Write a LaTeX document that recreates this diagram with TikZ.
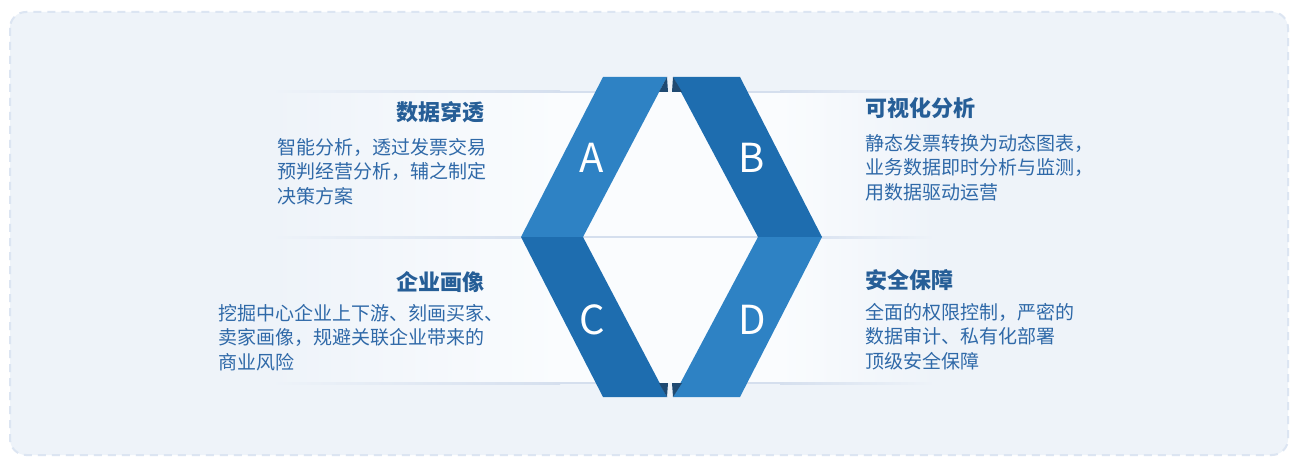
\documentclass[tikz,border=0pt]{standalone}
\usepackage{fontspec}
\newfontfamily\cjk{Noto Sans CJK SC}
\definecolor{bg}{HTML}{EEF3F9}
\definecolor{bgline}{HTML}{DCE5F2}
\definecolor{band}{HTML}{FAFCFE}
\definecolor{lightblue}{HTML}{2E82C4}
\definecolor{darkblue}{HTML}{1E6DAF}
\definecolor{fold}{HTML}{1F4A72}
\definecolor{titlec}{HTML}{265E97}
\definecolor{bodyc}{HTML}{2F69A8}
\definecolor{sep}{HTML}{D5DFEE}
\begin{document}
\begin{tikzpicture}[x=1pt,y=-1pt,
  titletext/.style={font=\cjk\bfseries\fontsize{22}{26}\selectfont, text=titlec, inner sep=0pt},
  bodytext/.style={font=\cjk\fontsize{19}{24.5}\selectfont, text=bodyc, inner sep=0pt, align=left},
  lettertext/.style={font=\cjk\fontsize{40}{42}\selectfont, text=white, inner sep=0pt}]
\useasboundingbox (0,0) rectangle (1290,457);
\fill[white] (0,0) rectangle (1290,457);
\draw[bgline, fill=bg, line width=2pt, dash pattern=on 8pt off 6pt, rounded corners=16pt] (10,12) rectangle (1288,455);
% bands
\shade[left color=bg, right color=band] (270,92) rectangle (560,383);
\fill[band] (559,92) rectangle (781,383);
\shade[left color=band, right color=bg] (780,92) rectangle (935,383);
% separator lines
\foreach \yy in {92,237,383}{
  \shade[left color=bg, right color=sep] (270,\yy-1) rectangle (560,\yy+1);
  \shade[left color=sep, right color=bg] (780,\yy-1) rectangle (935,\yy+1);
}
\fill[sep] (559,236) rectangle (781,238);
\fill[sep] (559,91) rectangle (600,93);
\fill[sep] (740,91) rectangle (781,93);
\fill[sep] (559,382) rectangle (600,384);
\fill[sep] (740,382) rectangle (781,384);
% ribbon pieces
\fill[lightblue] (603,77) -- (667,77) -- (583,237) -- (521,237) -- cycle;
\fill[darkblue] (673,77) -- (740,77) -- (822,237) -- (758,237) -- cycle;
\fill[darkblue] (521,237) -- (583,237) -- (667,397) -- (603,397) -- cycle;
\fill[lightblue] (758,237) -- (822,237) -- (740,397) -- (673,397) -- cycle;
% folds
\fill[fold] (659,92) -- (667,77) -- (668,92) -- cycle;
\fill[fold] (673,77) -- (672,92) -- (682,92) -- cycle;
\fill[fold] (659,383) -- (668,383) -- (667,397) -- cycle;
\fill[fold] (672,383) -- (682,383) -- (673,397) -- cycle;
% letters
\node[lettertext] (la) at (592,158) {A};
\node[lettertext] (lb) at (752,158) {B};
\node[lettertext] (lc) at (592,320) {C};
\node[lettertext] (ld) at (752,320) {D};
% texts
\node[titletext, anchor=east] (t1) at (485,112) {数据穿透};
\node[bodytext, anchor=north west] (b1) at (277,138) {智能分析，透过发票交易\\预判经营分析，辅之制定\\决策方案};
\node[titletext, anchor=east] (t3) at (485,282) {企业画像};
\node[bodytext, anchor=north west] (b3) at (218,304) {挖掘中心企业上下游、刻画买家、\\卖家画像，规避关联企业带来的\\商业风险};
\node[titletext, anchor=west] (t2) at (865,108) {可视化分析};
\node[bodytext, anchor=north west] (b2) at (865,134) {静态发票转换为动态图表，\\业务数据即时分析与监测，\\用数据驱动运营};
\node[titletext, anchor=west] (t4) at (865,280) {安全保障};
\node[bodytext, anchor=north west] (b4) at (865,303) {全面的权限控制，严密的\\数据审计、私有化部署\\顶级安全保障};
\end{tikzpicture}
\end{document}
